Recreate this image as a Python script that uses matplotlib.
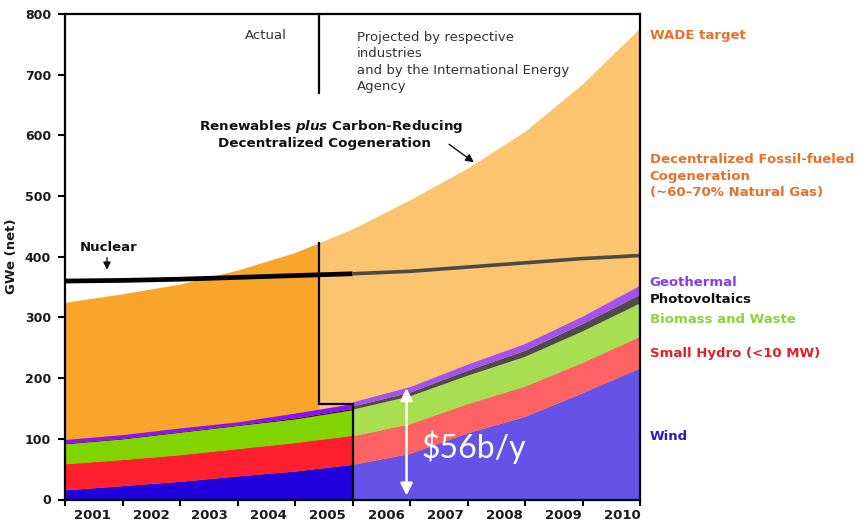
import numpy as np
import matplotlib
matplotlib.use("Agg")
import matplotlib.pyplot as plt
from matplotlib.patches import Rectangle

plt.rcParams['font.family'] = ['DejaVu Sans']
plt.rcParams['mathtext.fontset'] = 'custom'
plt.rcParams['mathtext.it'] = 'DejaVu Sans:italic:bold'
plt.rcParams['mathtext.rm'] = 'DejaVu Sans:bold'

# ---------------------------------------------------------------- data
years = [2001, 2002, 2003, 2004, 2005, 2006, 2007, 2008, 2009, 2010]

# data points sit on the year boundaries (0 = start of 2001, 10 = end of 2010)
x_actual = np.arange(0, 6)
x_projected = np.arange(5, 11)
x_all = np.arange(0, 11)
actual_end = 4.42          # where "Actual" gives way to "Projected"

# GWe (net), actual period
wind_actual = [15, 22, 29, 38, 46, 57]
hydro_actual = [43, 43, 44, 45, 47, 48]
biomass_actual = [33, 34, 37, 38, 39, 42]
pv_actual = [1, 1, 1, 1, 1.5, 2]
geo_actual = [6, 6, 6, 5, 8, 8]

# GWe (net), projected period
wind_proj = [57, 75, 109, 136, 175, 216]
hydro_proj = [47, 49, 48, 50, 50, 52]
biomass_proj = [44, 46, 47, 49, 52, 55]
pv_proj = [5, 6, 8, 10, 12, 14]
geo_proj = [7, 9, 10, 11, 12, 15]

# renewables plus decentralized cogeneration (WADE target curve)
total_capacity = [325, 339, 355, 378, 407, 446, 494, 546, 607, 685, 777]

nuclear_actual = [360, 361, 363, 366, 369, 372]
nuclear_proj = [372, 376, 383, 390, 397, 402]

# ---------------------------------------------------------------- styles
c_actual = ['#2200dd', '#ff1f2f', '#80d500', '#000000', '#8a10ff']
c_proj = ['#6652e8', '#ff6262', '#a8df52', '#4c4c4c', '#a450f2']
c_fossil_actual = '#f9a52c'
c_fossil_proj = '#fdc46f'
orange_txt = '#e8702a'

fig = plt.figure(figsize=(8.57, 5.24), dpi=100)
ax = fig.add_axes([65 / 857, 1 - 499.5 / 524, 575 / 857, 485.5 / 524])
ax.set_xlim(0, 10)
ax.set_ylim(0, 800)

# decentralized fossil-fueled cogeneration (under the renewables stack)
f1 = ax.fill_between(x_all, 0, total_capacity, color=c_fossil_actual, lw=0, zorder=1)
f1.set_clip_path(Rectangle((0, 0), actual_end, 800, transform=ax.transData))
f2 = ax.fill_between(x_all, 0, total_capacity, color=c_fossil_proj, lw=0, zorder=1)
f2.set_clip_path(Rectangle((actual_end, 0), 10 - actual_end, 800, transform=ax.transData))

# renewables stacks
ax.stackplot(x_actual, wind_actual, hydro_actual, biomass_actual, pv_actual, geo_actual,
             colors=c_actual, lw=0, zorder=2)
ax.stackplot(x_projected, wind_proj, hydro_proj, biomass_proj, pv_proj, geo_proj,
             colors=c_proj, lw=0, zorder=2)

# nuclear
ax.plot(x_actual, nuclear_actual, color='black', lw=3.4, solid_capstyle='butt', zorder=4)
ax.plot(x_projected, nuclear_proj, color='#4a4a4a', lw=2.6, solid_capstyle='butt', zorder=4)

# outline of the actual period
renew_top_end = (wind_actual[-1] + hydro_actual[-1] + biomass_actual[-1]
                 + pv_actual[-1] + geo_actual[-1])
top_at_split = np.interp(actual_end, x_all, total_capacity)
ax.plot([5, 5, actual_end, actual_end], [0, renew_top_end, renew_top_end, top_at_split],
        color='black', lw=1.6, zorder=5, solid_joinstyle='miter')
ax.plot([actual_end, actual_end], [670, 800], color='black', lw=1.6, zorder=5, clip_on=False)

# ---------------------------------------------------------------- axes
for s in ax.spines.values():
    s.set_linewidth(1.6)
    s.set_zorder(6)

ax.set_xticks(range(11))
ax.set_xticklabels([])
label_pos = [0.47 + 1.025 * i for i in range(len(years))]
ax.set_xticks(label_pos, minor=True)
ax.set_xticklabels([str(y) for y in years], minor=True)
ax.tick_params(axis='x', which='major', length=4, width=1.5, direction='out')
ax.tick_params(axis='x', which='minor', length=0, pad=7, labelsize=9.5)
ax.set_yticks(range(0, 801, 100))
ax.tick_params(axis='y', length=5, width=1.5, pad=5, labelsize=9)
for lab in ax.get_xticklabels(minor=True) + ax.get_yticklabels():
    lab.set_fontweight('bold')
    lab.set_color('#1a1a1a')

fig.text(12 / 857, 1 - 256 / 524, 'GWe (net)', rotation=90, fontweight='bold',
         fontsize=9.5, ha='center', va='center', color='#1a1a1a')

# ---------------------------------------------------------------- annotations
ax.text(3.5, 765, 'Actual', fontsize=9.5, ha='center', va='center', color='#333333')
ax.text(5.08, 721, 'Projected by respective\nindustries\nand by the International Energy\nAgency',
        fontsize=9.5, ha='left', va='center', color='#333333', linespacing=1.32)

ax.text(4.63, 615, r'Renewables $\mathit{plus}$ Carbon-Reducing', fontsize=9.7,
        fontweight='bold', ha='center', va='center', color='#111111')
ax.text(4.52, 587, 'Decentralized Cogeneration', fontsize=9.7,
        fontweight='bold', ha='center', va='center', color='#111111')
ax.annotate('', xy=(7.15, 553), xytext=(6.64, 588),
            arrowprops=dict(arrowstyle='-|>', color='#111111', lw=1.0, mutation_scale=12),
            zorder=7)

ax.text(0.26, 416, 'Nuclear', fontsize=9.5, fontweight='bold', ha='left', va='center',
        color='#111111')
ax.annotate('', xy=(0.73, 374), xytext=(0.73, 403),
            arrowprops=dict(arrowstyle='-|>', color='#111111', lw=1.0, mutation_scale=11),
            zorder=7)

# series names at the right
right_labels = [
    ('WADE target', 765, orange_txt),
    ('Decentralized Fossil-fueled\nCogeneration\n(~60\u201370% Natural Gas)', 533, orange_txt),
    ('Geothermal', 358, '#8a3be6'),
    ('Photovoltaics', 329, '#111111'),
    ('Biomass and Waste', 296, '#8fd13c'),
    ('Small Hydro (<10 MW)', 241, '#e0202a'),
    ('Wind', 103, '#2a1ad0'),
]
for txt, yv, col in right_labels:
    ax.text(10.17, yv, txt, fontsize=9.5, fontweight='bold', color=col, ha='left',
            va='center', clip_on=False, linespacing=1.38)

# investment annotation
ax.annotate('', xy=(5.94, 2), xytext=(5.94, 188),
            arrowprops=dict(arrowstyle='<|-|>', color='white', lw=1.8, mutation_scale=18),
            zorder=7)
ax.text(7.11, 86, r'\$56b/y', fontsize=23, color='white', ha='center', va='center',
        family=['Lato', 'DejaVu Sans'], zorder=7)

fig.savefig('out.png', dpi=100)
